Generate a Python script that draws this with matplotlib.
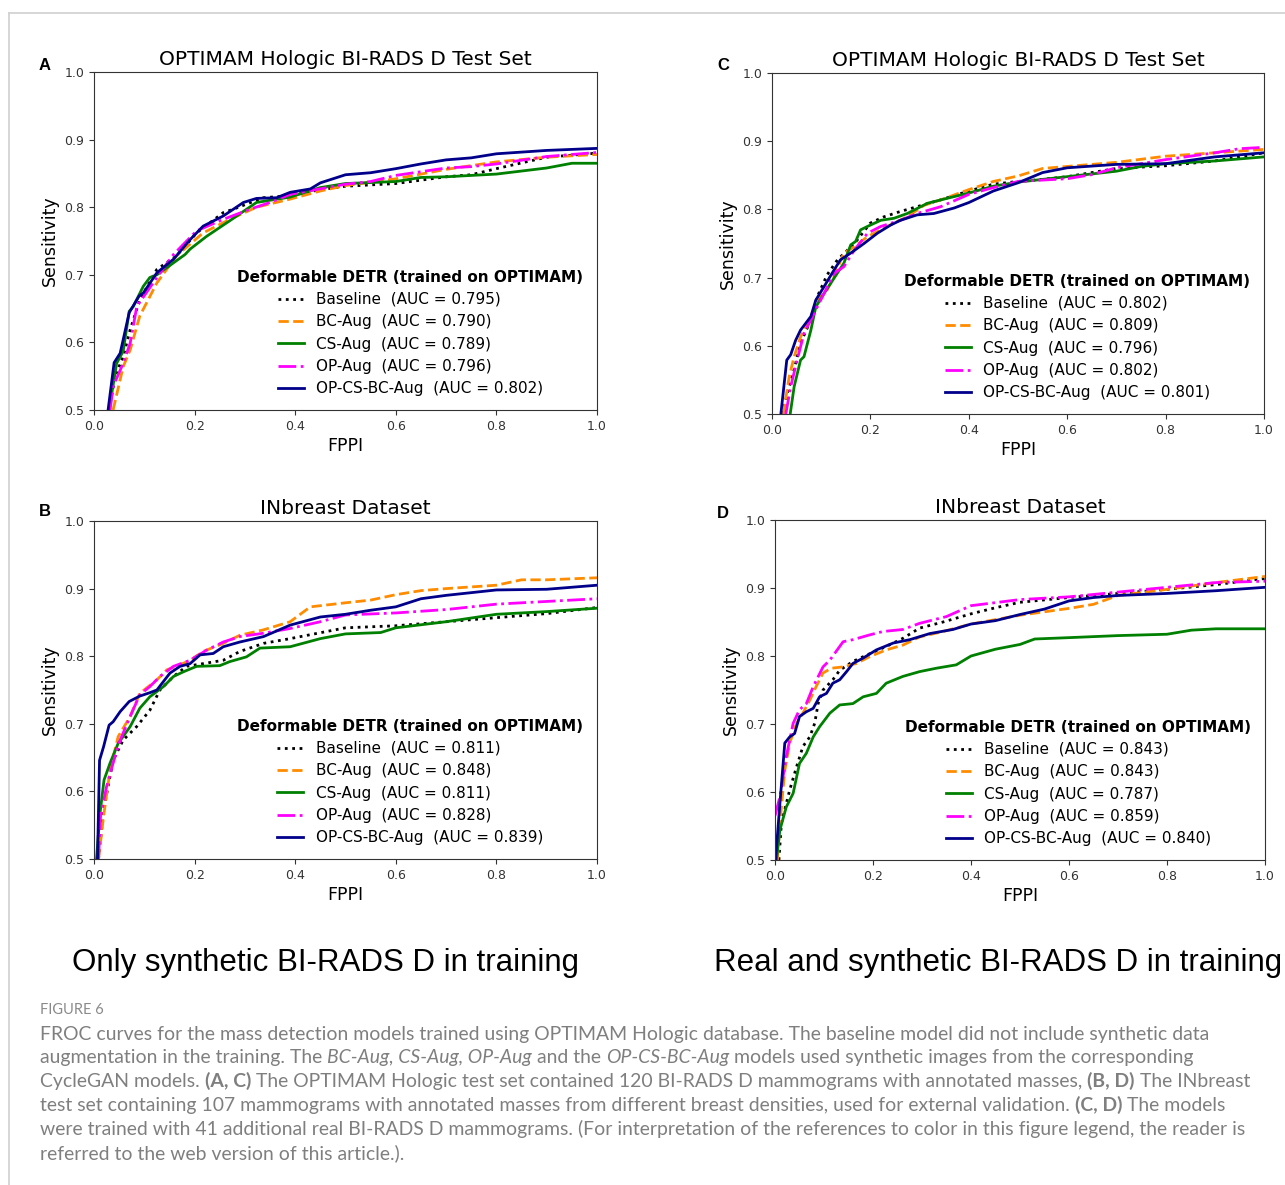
import matplotlib
matplotlib.use("Agg")
import matplotlib.pyplot as plt
from matplotlib.lines import Line2D

# ---- data (FPPI, sensitivity) ----
models = ["Baseline", "BC-Aug", "CS-Aug", "OP-Aug", "OP-CS-BC-Aug"]
colors = ["black", "darkorange", "green", "magenta", "darkblue"]
styles = [":", "--", "-", "-.", "-"]

# panel A: OPTIMAM test set, only synthetic BI-RADS D
a_auc = [0.795, 0.790, 0.789, 0.796, 0.802]
a_base_x = [0.030, 0.042, 0.058, 0.072, 0.091, 0.125, 0.164, 0.204, 0.257, 0.277, 0.336, 0.39, 0.45, 0.5, 0.6, 0.7, 0.75, 0.8, 0.9, 1.0]
a_base_y = [0.5, 0.55, 0.579, 0.619, 0.663, 0.708, 0.728, 0.762, 0.792, 0.797, 0.814, 0.817, 0.826, 0.831, 0.835, 0.845, 0.848, 0.857, 0.874, 0.880]
a_bc_x = [0.038, 0.058, 0.072, 0.091, 0.125, 0.164, 0.217, 0.270, 0.323, 0.39, 0.45, 0.5, 0.6, 0.7, 0.8, 0.9, 1.0]
a_bc_y = [0.5, 0.564, 0.589, 0.639, 0.688, 0.728, 0.762, 0.782, 0.80, 0.812, 0.824, 0.832, 0.842, 0.856, 0.867, 0.874, 0.878]
a_cs_x = [0.030, 0.045, 0.058, 0.070, 0.078, 0.098, 0.111, 0.125, 0.181, 0.191, 0.224, 0.270, 0.323, 0.39, 0.45, 0.5, 0.6, 0.65, 0.7, 0.8, 0.9, 0.95, 1.0]
a_cs_y = [0.5, 0.569, 0.587, 0.646, 0.653, 0.683, 0.696, 0.700, 0.730, 0.738, 0.757, 0.780, 0.807, 0.815, 0.829, 0.835, 0.838, 0.844, 0.845, 0.849, 0.858, 0.865, 0.865]
a_op_x = [0.032, 0.038, 0.058, 0.072, 0.085, 0.125, 0.158, 0.204, 0.257, 0.310, 0.35, 0.39, 0.5, 0.55, 0.6, 0.7, 0.75, 0.8, 0.9, 1.0]
a_op_y = [0.5, 0.535, 0.569, 0.599, 0.653, 0.696, 0.730, 0.765, 0.782, 0.797, 0.807, 0.819, 0.834, 0.838, 0.847, 0.858, 0.860, 0.864, 0.875, 0.881]
a_all_x = [0.028, 0.04, 0.052, 0.070, 0.090, 0.098, 0.125, 0.158, 0.191, 0.217, 0.257, 0.297, 0.323, 0.363, 0.39, 0.43, 0.45, 0.5, 0.55, 0.6, 0.65, 0.7, 0.75, 0.8, 0.9, 1.0]
a_all_y = [0.5, 0.570, 0.584, 0.644, 0.669, 0.673, 0.703, 0.723, 0.752, 0.772, 0.787, 0.807, 0.813, 0.814, 0.822, 0.827, 0.836, 0.848, 0.851, 0.857, 0.864, 0.870, 0.873, 0.879, 0.884, 0.887]

# panel B: INbreast, only synthetic BI-RADS D
b_auc = [0.811, 0.848, 0.811, 0.828, 0.839]
b_base_x = [0.009, 0.019, 0.038, 0.058, 0.085, 0.111, 0.131, 0.158, 0.184, 0.217, 0.257, 0.29, 0.337, 0.39, 0.5, 0.6, 0.7, 0.8, 0.9, 1.0]
b_base_y = [0.5, 0.572, 0.646, 0.676, 0.696, 0.72, 0.75, 0.77, 0.785, 0.789, 0.794, 0.807, 0.819, 0.826, 0.842, 0.845, 0.851, 0.857, 0.863, 0.872]
b_bc_x = [0.009, 0.019, 0.032, 0.048, 0.072, 0.091, 0.125, 0.145, 0.164, 0.191, 0.217, 0.257, 0.29, 0.337, 0.39, 0.43, 0.5, 0.55, 0.6, 0.65, 0.7, 0.8, 0.85, 0.9, 1.0]
b_bc_y = [0.5, 0.563, 0.632, 0.681, 0.711, 0.745, 0.765, 0.78, 0.785, 0.794, 0.807, 0.819, 0.831, 0.839, 0.851, 0.873, 0.879, 0.883, 0.891, 0.897, 0.900, 0.905, 0.913, 0.913, 0.916]
b_cs_x = [0.005, 0.012, 0.02, 0.032, 0.048, 0.072, 0.091, 0.111, 0.138, 0.158, 0.178, 0.204, 0.25, 0.27, 0.303, 0.33, 0.39, 0.45, 0.5, 0.57, 0.6, 0.7, 0.8, 0.9, 1.0]
b_cs_y = [0.5, 0.568, 0.617, 0.642, 0.671, 0.696, 0.723, 0.74, 0.755, 0.770, 0.777, 0.785, 0.786, 0.792, 0.799, 0.812, 0.814, 0.826, 0.833, 0.835, 0.842, 0.851, 0.862, 0.866, 0.871]
b_op_x = [0.009, 0.013, 0.025, 0.038, 0.052, 0.072, 0.091, 0.111, 0.131, 0.158, 0.191, 0.224, 0.257, 0.29, 0.337, 0.39, 0.45, 0.5, 0.6, 0.7, 0.8, 0.9, 1.0]
b_op_y = [0.5, 0.563, 0.607, 0.642, 0.676, 0.711, 0.743, 0.755, 0.770, 0.785, 0.794, 0.809, 0.821, 0.829, 0.834, 0.841, 0.851, 0.861, 0.864, 0.869, 0.877, 0.881, 0.885]
b_all_x = [0.007, 0.011, 0.019, 0.030, 0.038, 0.052, 0.070, 0.091, 0.111, 0.125, 0.151, 0.171, 0.191, 0.211, 0.237, 0.257, 0.29, 0.337, 0.39, 0.45, 0.5, 0.55, 0.6, 0.65, 0.7, 0.8, 0.9, 1.0]
b_all_y = [0.5, 0.646, 0.666, 0.698, 0.703, 0.718, 0.733, 0.741, 0.746, 0.750, 0.775, 0.785, 0.789, 0.802, 0.804, 0.814, 0.821, 0.829, 0.846, 0.858, 0.862, 0.868, 0.873, 0.885, 0.89, 0.898, 0.899, 0.905]

# panel C: OPTIMAM test set, real + synthetic BI-RADS D
c_auc = [0.802, 0.809, 0.796, 0.802, 0.801]
c_base_x = [0.021, 0.031, 0.045, 0.058, 0.079, 0.092, 0.112, 0.133, 0.153, 0.173, 0.200, 0.227, 0.261, 0.295, 0.343, 0.4, 0.45, 0.5, 0.55, 0.6, 0.7, 0.8, 0.9, 1.0]
c_base_y = [0.5, 0.530, 0.565, 0.604, 0.638, 0.672, 0.704, 0.726, 0.74, 0.755, 0.78, 0.789, 0.797, 0.804, 0.814, 0.827, 0.837, 0.841, 0.844, 0.848, 0.86, 0.864, 0.871, 0.883]
c_bc_x = [0.023, 0.035, 0.045, 0.058, 0.079, 0.092, 0.112, 0.126, 0.146, 0.167, 0.194, 0.221, 0.248, 0.275, 0.309, 0.343, 0.4, 0.45, 0.5, 0.55, 0.6, 0.7, 0.8, 0.9, 1.0]
c_bc_y = [0.5, 0.555, 0.584, 0.613, 0.643, 0.667, 0.682, 0.701, 0.736, 0.745, 0.76, 0.77, 0.78, 0.789, 0.806, 0.814, 0.829, 0.841, 0.849, 0.86, 0.863, 0.869, 0.878, 0.883, 0.888]
c_cs_x = [0.037, 0.045, 0.058, 0.065, 0.079, 0.089, 0.106, 0.126, 0.146, 0.160, 0.170, 0.18, 0.194, 0.221, 0.248, 0.275, 0.316, 0.349, 0.4, 0.45, 0.5, 0.6, 0.7, 0.75, 0.8, 0.9, 1.0]
c_cs_y = [0.5, 0.54, 0.579, 0.584, 0.623, 0.657, 0.677, 0.699, 0.721, 0.748, 0.753, 0.77, 0.775, 0.784, 0.787, 0.794, 0.809, 0.815, 0.824, 0.834, 0.84, 0.848, 0.856, 0.863, 0.867, 0.871, 0.877]
c_op_x = [0.028, 0.038, 0.051, 0.065, 0.079, 0.099, 0.126, 0.146, 0.167, 0.194, 0.221, 0.261, 0.295, 0.343, 0.4, 0.45, 0.5, 0.6, 0.65, 0.7, 0.8, 0.9, 0.95, 1.0]
c_op_y = [0.5, 0.54, 0.579, 0.618, 0.638, 0.667, 0.706, 0.716, 0.74, 0.765, 0.775, 0.784, 0.794, 0.804, 0.822, 0.832, 0.841, 0.845, 0.851, 0.861, 0.873, 0.883, 0.889, 0.891]
c_all_x = [0.018, 0.030, 0.038, 0.048, 0.058, 0.079, 0.089, 0.106, 0.126, 0.139, 0.160, 0.187, 0.214, 0.241, 0.261, 0.295, 0.329, 0.37, 0.4, 0.45, 0.5, 0.55, 0.6, 0.7, 0.8, 0.9, 1.0]
c_all_y = [0.5, 0.579, 0.587, 0.608, 0.623, 0.643, 0.667, 0.687, 0.711, 0.726, 0.736, 0.75, 0.765, 0.777, 0.784, 0.792, 0.794, 0.802, 0.81, 0.827, 0.839, 0.854, 0.861, 0.866, 0.867, 0.877, 0.883]

# panel D: INbreast, real + synthetic BI-RADS D
d_auc = [0.843, 0.843, 0.787, 0.859, 0.840]
d_base_x = [0.008, 0.013, 0.03, 0.044, 0.057, 0.071, 0.081, 0.088, 0.098, 0.118, 0.132, 0.159, 0.186, 0.227, 0.261, 0.295, 0.343, 0.4, 0.45, 0.5, 0.6, 0.7, 0.8, 0.9, 1.0]
d_base_y = [0.5, 0.554, 0.603, 0.637, 0.667, 0.681, 0.701, 0.730, 0.75, 0.765, 0.779, 0.792, 0.801, 0.814, 0.826, 0.841, 0.85, 0.862, 0.871, 0.879, 0.886, 0.892, 0.898, 0.905, 0.914]
d_bc_x = [0.005, 0.01, 0.02, 0.03, 0.044, 0.057, 0.071, 0.084, 0.098, 0.115, 0.139, 0.166, 0.193, 0.227, 0.261, 0.295, 0.343, 0.4, 0.5, 0.6, 0.65, 0.7, 0.8, 0.9, 1.0]
d_bc_y = [0.5, 0.554, 0.632, 0.672, 0.701, 0.716, 0.735, 0.755, 0.775, 0.782, 0.784, 0.789, 0.799, 0.809, 0.816, 0.828, 0.836, 0.847, 0.86, 0.87, 0.876, 0.889, 0.898, 0.908, 0.917]
d_cs_x = [0.003, 0.01, 0.023, 0.037, 0.05, 0.064, 0.078, 0.091, 0.112, 0.132, 0.159, 0.18, 0.207, 0.227, 0.261, 0.295, 0.329, 0.37, 0.4, 0.45, 0.5, 0.53, 0.6, 0.7, 0.8, 0.85, 0.9, 1.0]
d_cs_y = [0.5, 0.544, 0.578, 0.598, 0.642, 0.657, 0.681, 0.696, 0.716, 0.728, 0.730, 0.74, 0.745, 0.760, 0.770, 0.777, 0.782, 0.787, 0.80, 0.81, 0.817, 0.825, 0.827, 0.83, 0.832, 0.838, 0.84, 0.84]
d_op_x = [0.0, 0.01, 0.023, 0.037, 0.05, 0.064, 0.078, 0.098, 0.112, 0.139, 0.159, 0.193, 0.22, 0.261, 0.295, 0.35, 0.4, 0.5, 0.6, 0.7, 0.8, 0.9, 1.0]
d_op_y = [0.565, 0.593, 0.652, 0.701, 0.721, 0.730, 0.755, 0.784, 0.794, 0.821, 0.824, 0.831, 0.836, 0.839, 0.848, 0.858, 0.874, 0.883, 0.887, 0.894, 0.901, 0.908, 0.910]
d_all_x = [0.001, 0.01, 0.02, 0.03, 0.04, 0.05, 0.064, 0.078, 0.091, 0.105, 0.118, 0.132, 0.146, 0.159, 0.18, 0.207, 0.241, 0.275, 0.316, 0.363, 0.4, 0.45, 0.5, 0.55, 0.6, 0.65, 0.7, 0.8, 0.9, 1.0]
d_all_y = [0.5, 0.583, 0.672, 0.681, 0.686, 0.711, 0.718, 0.723, 0.74, 0.745, 0.76, 0.765, 0.777, 0.789, 0.797, 0.809, 0.819, 0.824, 0.833, 0.839, 0.847, 0.852, 0.861, 0.869, 0.881, 0.886, 0.889, 0.892, 0.896, 0.901]

panel_titles = ["OPTIMAM Hologic BI-RADS D Test Set", "INbreast Dataset",
                "OPTIMAM Hologic BI-RADS D Test Set", "INbreast Dataset"]
panel_letters = ["A", "B", "C", "D"]
legend_title = "Deformable DETR (trained on OPTIMAM)"
group_labels = ["Only synthetic BI-RADS D in training", "Real and synthetic BI-RADS D in training"]

panels = [
    (a_auc, [(a_base_x, a_base_y), (a_bc_x, a_bc_y), (a_cs_x, a_cs_y), (a_op_x, a_op_y), (a_all_x, a_all_y)]),
    (b_auc, [(b_base_x, b_base_y), (b_bc_x, b_bc_y), (b_cs_x, b_cs_y), (b_op_x, b_op_y), (b_all_x, b_all_y)]),
    (c_auc, [(c_base_x, c_base_y), (c_bc_x, c_bc_y), (c_cs_x, c_cs_y), (c_op_x, c_op_y), (c_all_x, c_all_y)]),
    (d_auc, [(d_base_x, d_base_y), (d_bc_x, d_bc_y), (d_cs_x, d_cs_y), (d_op_x, d_op_y), (d_all_x, d_all_y)]),
]

W, H = 1285, 1185
fig = plt.figure(figsize=(W / 100, H / 100), dpi=100)


def px_rect(left, top, right, bottom):
    return [left / W, 1 - bottom / H, (right - left) / W, (bottom - top) / H]


# axes boxes in pixel coordinates of the reference
boxes = [(94, 72, 597, 410), (94, 521, 597, 859), (772, 73, 1264, 414), (775, 520, 1265, 860)]
letter_pos = [(45, 66), (45, 512), (723, 66), (723, 513)]

for i, (auc, curves) in enumerate(panels):
    ax = fig.add_axes(px_rect(*boxes[i]))
    for (xs, ys), name, col, ls, a in zip(curves, models, colors, styles, auc):
        ax.plot(xs, ys, color=col, linestyle=ls, linewidth=2,
                label=f"{name}  (AUC = {a:.3f})")
    ax.set_xlim(0, 1)
    ax.set_ylim(0.5, 1.0)
    ax.set_xticks([0.0, 0.2, 0.4, 0.6, 0.8, 1.0])
    ax.set_yticks([0.5, 0.6, 0.7, 0.8, 0.9, 1.0])
    ax.tick_params(labelsize=9, colors="#333333", length=3.5, width=0.8)
    for sp in ax.spines.values():
        sp.set_color("#333333")
    ax.set_xlabel("FPPI", fontsize=12.5, labelpad=3)
    ax.set_ylabel("Sensitivity", fontsize=12.5, labelpad=4)
    ax.set_title(panel_titles[i], fontsize=14.5, pad=5)
    ax.legend(loc="lower right", frameon=False, fontsize=11,
              title=legend_title, handlelength=1.7, labelspacing=0.48,
              title_fontproperties={"weight": "bold", "size": 11})
    lx, ly = letter_pos[i]
    fig.text(lx / W, 1 - ly / H, panel_letters[i], fontsize=12, fontweight="bold",
             family="Liberation Sans", ha="center", va="center")

fig.text(325 / W, 1 - 963 / H, group_labels[0], fontsize=22.5,
         family="Liberation Sans", ha="center", va="center")
fig.text(998 / W, 1 - 963 / H, group_labels[1], fontsize=22.5,
         family="Liberation Sans", ha="center", va="center")

# thin frame of the figure page
fig.add_artist(Line2D([9 / W, 1], [1 - 13 / H, 1 - 13 / H], color="#d0d0d0", lw=1.2))
fig.add_artist(Line2D([9 / W, 9 / W], [0, 1 - 13 / H], color="#d0d0d0", lw=1.2))

# caption
cap = fig.add_axes([0, 0, 1, 1])
cap.axis("off")
cap.set_xlim(0, 1)
cap.set_ylim(0, 1)
cap_color = "#7f7f7f"
cap_font = "Lato"

cap.text(40 / W, 1 - 1010 / H, "FIGURE 6", fontsize=10.5, color="#8a8a8a",
         family=cap_font, va="center", ha="left")

R, I, B = "normal", "italic", "bold"
caption_lines = [
    [("FROC curves for the mass detection models trained using OPTIMAM Hologic database. The baseline model did not include synthetic data", R)],
    [("augmentation in the training. The ", R), ("BC-Aug, CS-Aug, OP-Aug", I), (" and the ", R),
     ("OP-CS-BC-Aug", I), (" models used synthetic images from the corresponding", R)],
    [("CycleGAN models. ", R), ("(A, C)", B),
     (" The OPTIMAM Hologic test set contained 120 BI-RADS D mammograms with annotated masses, ", R),
     ("(B, D)", B), (" The INbreast", R)],
    [("test set containing 107 mammograms with annotated masses from different breast densities, used for external validation. ", R),
     ("(C, D)", B), (" The models", R)],
    [("were trained with 41 additional real BI-RADS D mammograms. (For interpretation of the references to color in this figure legend, the reader is", R)],
    [("referred to the web version of this article.).", R)],
]
line_y = [1034, 1057, 1081, 1105, 1129, 1153]

# pick the caption size so that the first line is as wide as in the reference
probe = cap.text(0, 0, caption_lines[0][0][0], fontsize=12, family=cap_font)
probe_w = probe.get_window_extent(fig.canvas.get_renderer()).width
probe.remove()
cap_size = 12 * (1206 - 40) / probe_w

for pieces, yy in zip(caption_lines, line_y):
    prev = None
    for txt, st in pieces:
        kw = dict(fontsize=cap_size, color=cap_color, family=cap_font, va="bottom", ha="left",
                  fontstyle="italic" if st == I else "normal",
                  fontweight="bold" if st == B else "normal")
        if prev is None:
            prev = cap.text(40 / W, 1 - (yy + 9) / H, txt, **kw)
        else:
            prev = cap.annotate(txt, xy=(1, 0), xycoords=prev, **kw)

fig.savefig("out.png", dpi=100)
